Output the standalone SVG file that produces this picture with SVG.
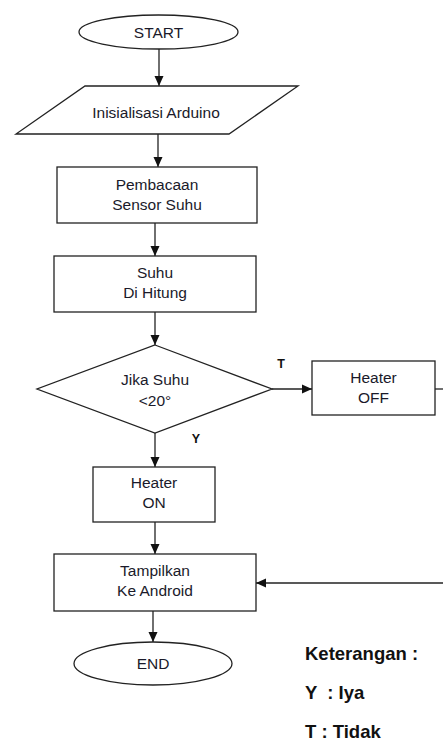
<svg xmlns="http://www.w3.org/2000/svg" width="443" height="744" viewBox="0 0 443 744">
<style>
.s{fill:#fff;stroke:#222;stroke-width:1.3}
.t{font-family:"Liberation Sans",Arial,sans-serif;font-size:15.5px;fill:#1a1a2a;text-anchor:middle}
.b{font-family:"Liberation Sans",Arial,sans-serif;font-weight:bold;fill:#111}
.c{fill:none;stroke:#222;stroke-width:1.3}
</style>
<defs>
<marker id="ar" markerUnits="userSpaceOnUse" markerWidth="10" markerHeight="10" viewBox="0 0 10 10" refX="10" refY="5" orient="auto">
<path d="M0,0.5 L10,5 L0,9.5 Z" fill="#111"/>
</marker>
</defs>
<rect width="443" height="744" fill="#fff"/>
<g id="connectors">
<line class="c" x1="159" y1="49" x2="159" y2="86" stroke-width="2" marker-end="url(#ar)"/>
<line class="c" x1="158" y1="134" x2="158" y2="167" marker-end="url(#ar)"/>
<line class="c" x1="155" y1="223" x2="155" y2="256" marker-end="url(#ar)"/>
<line class="c" x1="155" y1="312" x2="155" y2="345" marker-end="url(#ar)"/>
<line class="c" x1="272" y1="389" x2="312" y2="389" marker-end="url(#ar)"/>
<line class="c" x1="155" y1="433" x2="155" y2="467" marker-end="url(#ar)"/>
<line class="c" x1="155" y1="522" x2="155" y2="554" marker-end="url(#ar)"/>
<line class="c" x1="435" y1="389" x2="443" y2="389"/>
<line class="c" x1="443" y1="583" x2="256" y2="583" marker-end="url(#ar)"/>
<line class="c" x1="153" y1="611" x2="153" y2="642" stroke-width="1.6" marker-end="url(#ar)"/>
<text class="b" x="281" y="368" font-size="12.5" text-anchor="middle">T</text>
<text class="b" x="196" y="443" font-size="12.5" text-anchor="middle">Y</text>
</g>
<g id="start">
<ellipse class="s" cx="158.5" cy="32" rx="79.5" ry="17"/>
<text class="t" x="158.5" y="37.5">START</text>
</g>
<g id="init">
<polygon class="s" points="85,86 298,86 229,134 16,134"/>
<text class="t" x="156" y="117.5">Inisialisasi Arduino</text>
</g>
<g id="baca">
<rect class="s" x="57" y="167" width="200" height="56"/>
<text class="t" x="157" y="189.5">Pembacaan</text>
<text class="t" x="157" y="209.5">Sensor Suhu</text>
</g>
<g id="hitung">
<rect class="s" x="54" y="256" width="202" height="56"/>
<text class="t" x="155" y="277.5">Suhu</text>
<text class="t" x="155" y="297.5">Di Hitung</text>
</g>
<g id="cek">
<polygon class="s" points="155,345 272,389 155,433 37,389"/>
<text class="t" x="155" y="384.5">Jika Suhu</text>
<text class="t" x="155" y="405.5">&lt;20°</text>
</g>
<g id="off">
<rect class="s" x="312" y="361" width="123" height="54"/>
<text class="t" x="373.5" y="382.5">Heater</text>
<text class="t" x="373.5" y="402.5">OFF</text>
</g>
<g id="on">
<rect class="s" x="93" y="467" width="122" height="55"/>
<text class="t" x="154" y="487.5">Heater</text>
<text class="t" x="154" y="507.5">ON</text>
</g>
<g id="tampil">
<rect class="s" x="54" y="554" width="202" height="57"/>
<text class="t" x="155" y="575.5">Tampilkan</text>
<text class="t" x="155" y="595.5">Ke Android</text>
</g>
<g id="end">
<ellipse class="s" cx="153" cy="663.5" rx="79" ry="21.5"/>
<text class="t" x="153" y="669">END</text>
</g>
<g id="legend">
<text class="b" x="305" y="659.5" font-size="18.5">Keterangan :</text>
<text class="b" x="305" y="699" font-size="18.5" xml:space="preserve">Y  : Iya</text>
<text class="b" x="305" y="738" font-size="18.5">T : Tidak</text>
</g>
</svg>
